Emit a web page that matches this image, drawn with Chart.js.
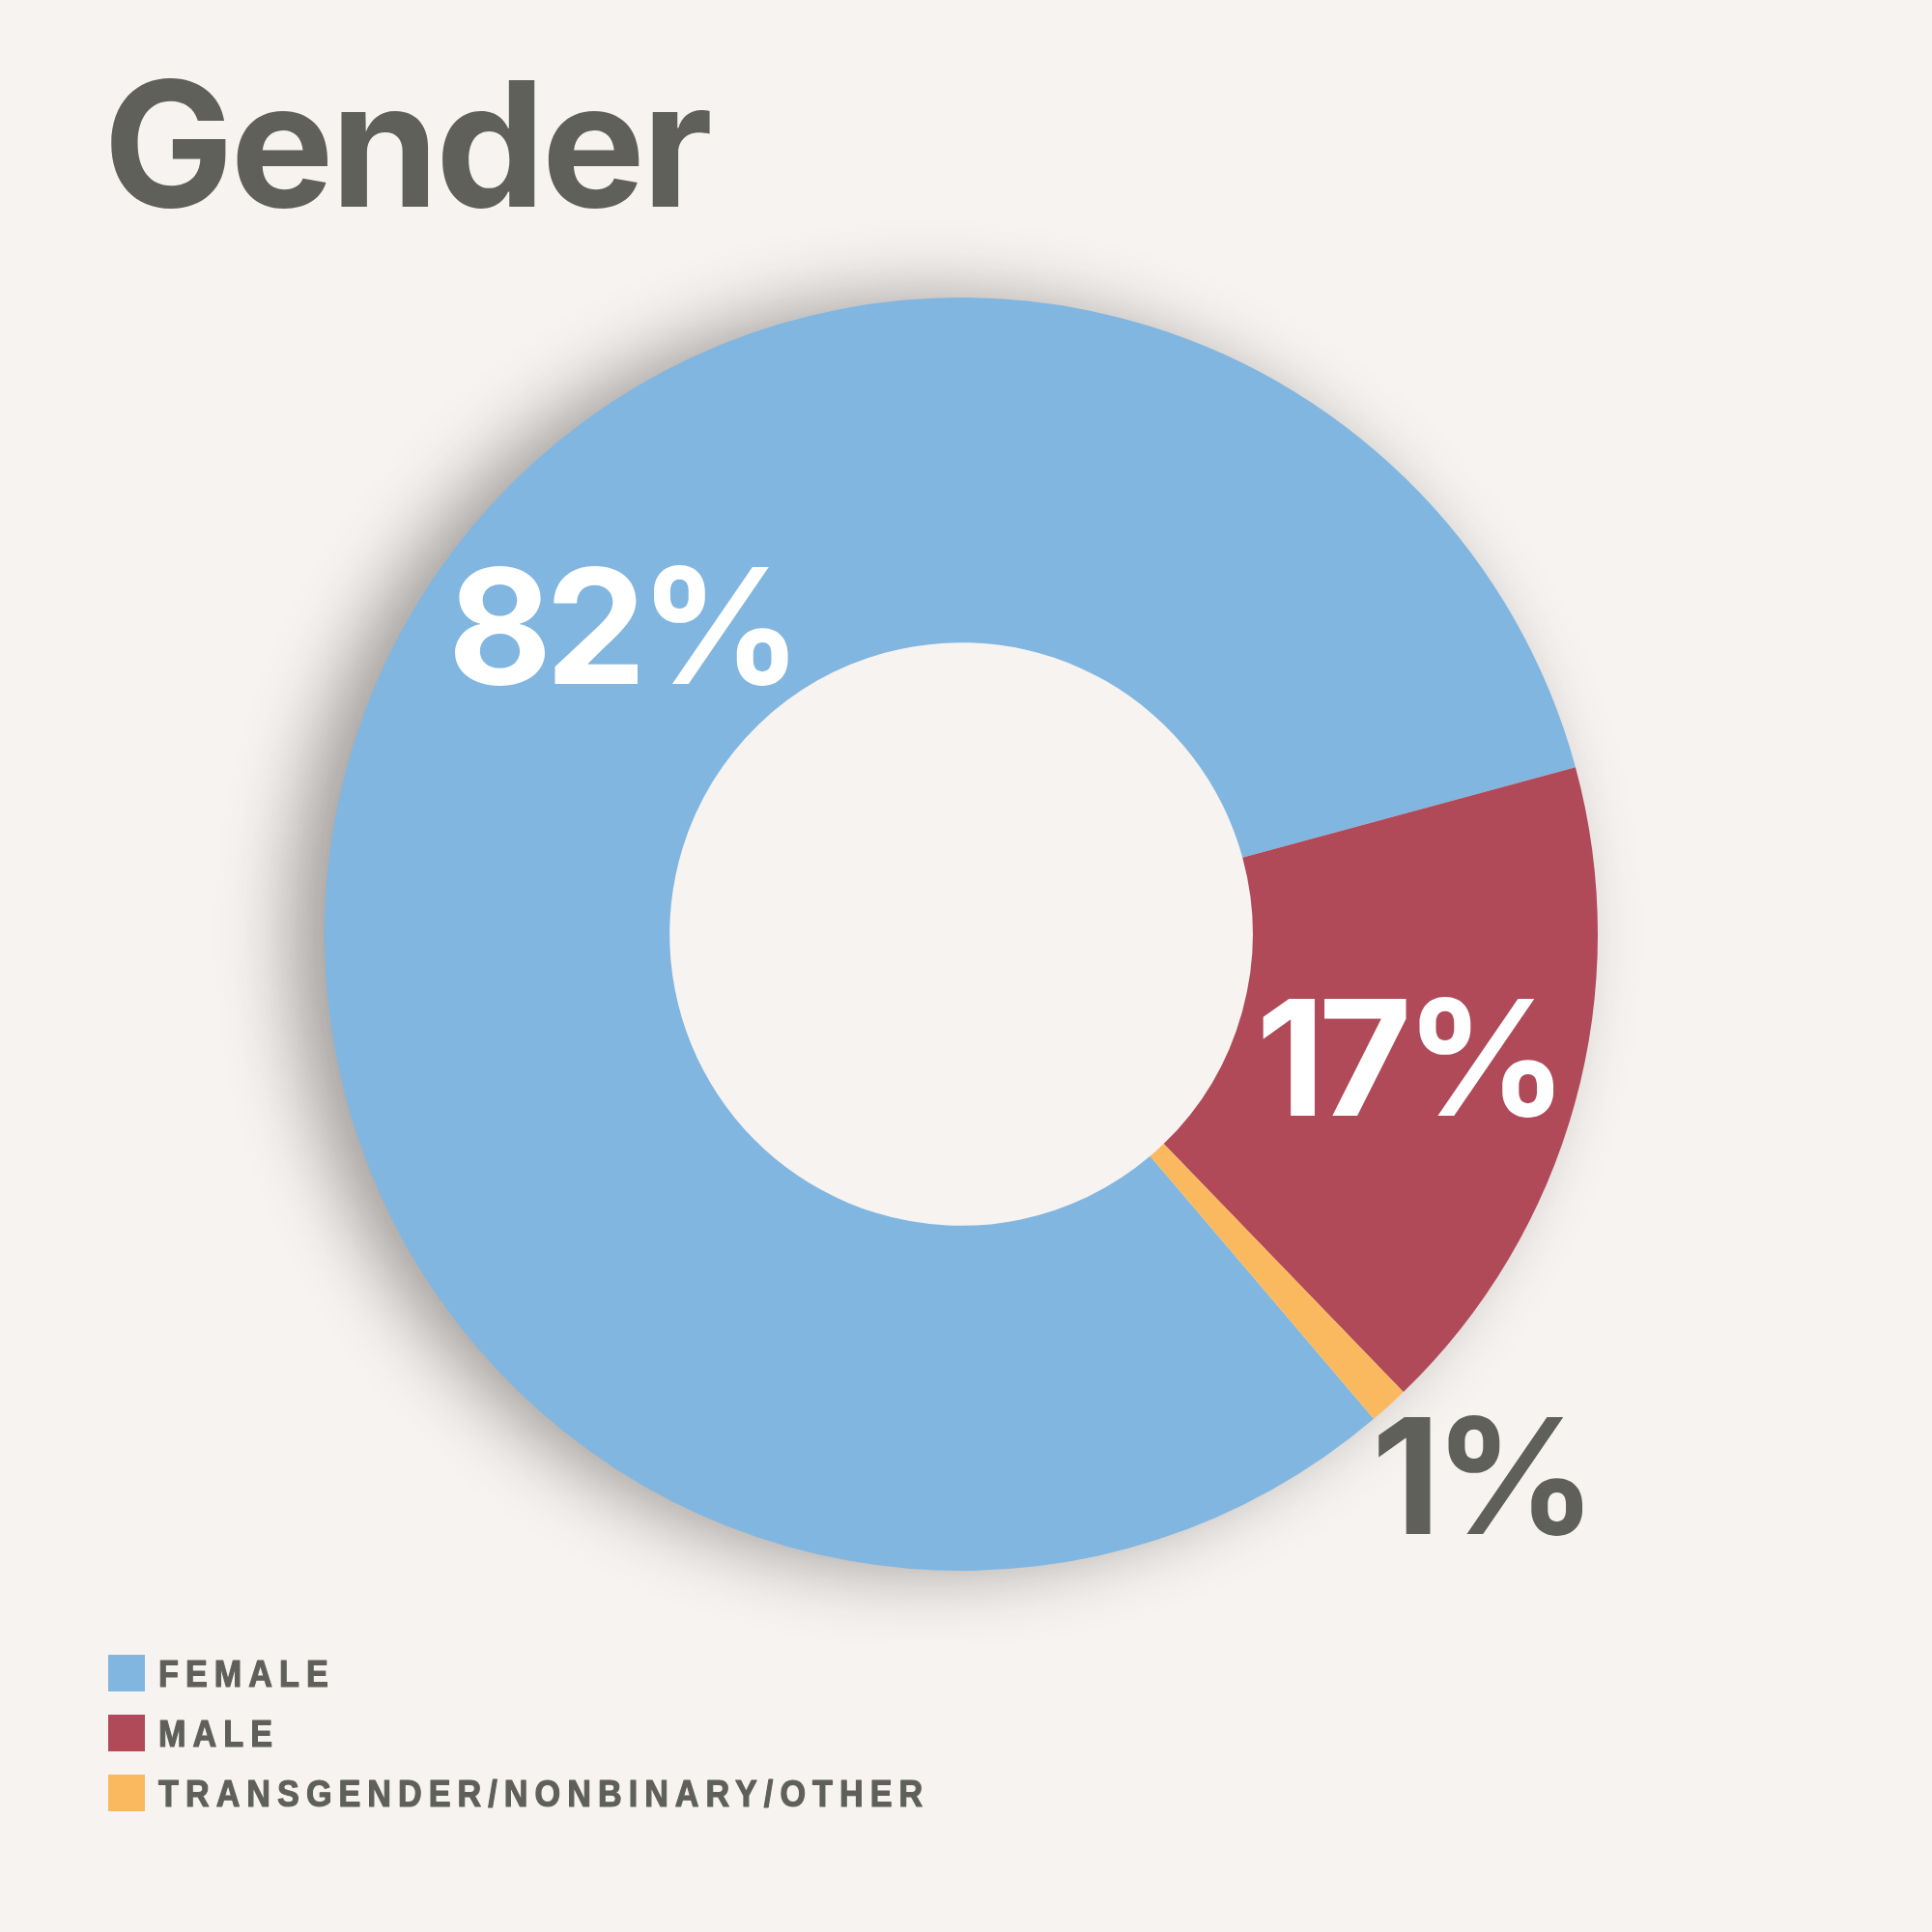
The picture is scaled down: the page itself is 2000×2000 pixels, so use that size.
<!DOCTYPE html>
<html>
<head>
<meta charset="utf-8">
<script src="https://cdn.jsdelivr.net/npm/chart.js@4.4.1/dist/chart.umd.min.js"></script>
<style>
  html, body { margin: 0; padding: 0; background: #f6f3f0; }
  #wrap { position: relative; width: 2000px; height: 2000px; }
</style>
</head>
<body>
<div id="wrap"><canvas id="genderChart" width="2000" height="2000"></canvas></div>
<script>
// ── Data ───────────────────────────────────────────
const categories = ['FEMALE', 'MALE', 'TRANSGENDER/NONBINARY/OTHER'];
const shares = [82, 17, 1];
const colors = ['#81b6e0', '#b04a59', '#fbb95f'];
const labelColors = ['#ffffff', '#ffffff', '#5f605a'];
// where each % label sits: fraction along the arc, and radial position
// (0 = inner edge, 1 = outer edge, >1 outside the ring)
const labelArcFrac = [0.585, 0.5, 0.05];
const labelRadial = [0.485, 0.5, 1.33];

const INK = '#5f605a';
const BG = '#f6f3f0';

// ── Ring shadow (drawn once, under the slices) ─────
const ringShadow = {
    id: 'ringShadow',
    beforeDatasetsDraw(chart) {
        const arc = chart.getDatasetMeta(0).data[0];
        if (!arc) return;
        const ctx = chart.ctx;
        ctx.save();
        ctx.shadowColor = 'rgba(40,35,35,0.42)';
        ctx.shadowBlur = 75;
        ctx.shadowOffsetX = -34;
        ctx.shadowOffsetY = 0;
        ctx.fillStyle = BG;
        ctx.beginPath();
        ctx.arc(arc.x, arc.y, arc.outerRadius - 2, 0, Math.PI * 2);
        ctx.fill();
        ctx.restore();
        ctx.save();
        ctx.fillStyle = BG;
        ctx.beginPath();
        ctx.arc(arc.x, arc.y, arc.innerRadius + 1, 0, Math.PI * 2);
        ctx.fill();
        ctx.restore();
    }
};

// ── Percent labels ─────────────────────────────────
const pctLabels = {
    id: 'pctLabels',
    afterDatasetsDraw(chart) {
        const ctx = chart.ctx;
        const size = 166;
        ctx.save();
        ctx.font = `700 ${size}px Inter, 'Noto Sans', sans-serif`;
        ctx.letterSpacing = '-7px';
        ctx.textAlign = 'center';
        ctx.textBaseline = 'alphabetic';
        chart.getDatasetMeta(0).data.forEach((arc, i) => {
            const a = arc.startAngle + (arc.endAngle - arc.startAngle) * labelArcFrac[i];
            const r = arc.innerRadius + (arc.outerRadius - arc.innerRadius) * labelRadial[i];
            const x = arc.x + Math.cos(a) * r;
            const y = arc.y + Math.sin(a) * r;
            ctx.fillStyle = labelColors[i];
            ctx.fillText(shares[i] + '%', x, y + size * 0.364);
        });
        ctx.restore();
    }
};

// ── Title + legend ─────────────────────────────────
const titleLegend = {
    id: 'titleLegend',
    afterDraw(chart) {
        const ctx = chart.ctx;
        ctx.save();
        ctx.fillStyle = INK;
        ctx.textAlign = 'left';
        ctx.textBaseline = 'alphabetic';
        ctx.font = "700 180px Inter, 'Noto Sans', sans-serif";
        ctx.letterSpacing = '-3.5px';
        ctx.fillText('Gender', 107, 214);
        ctx.restore();

        // legend text is condensed: squeeze the glyphs horizontally
        const squeeze = 0.9;
        ctx.save();
        ctx.font = "700 38px 'Liberation Sans', Arial, sans-serif";
        ctx.letterSpacing = '7.8px';
        ctx.textAlign = 'left';
        ctx.textBaseline = 'alphabetic';
        ctx.lineWidth = 1.2;
        ctx.lineJoin = 'round';
        categories.forEach((name, i) => {
            const top = 1713 + i * 62;
            ctx.fillStyle = colors[i];
            ctx.fillRect(112, top, 38, 38);
            ctx.save();
            ctx.scale(squeeze, 1);
            ctx.fillStyle = INK;
            ctx.strokeStyle = INK;
            ctx.fillText(name, 164 / squeeze, top + 33);
            ctx.strokeText(name, 164 / squeeze, top + 33);
            ctx.restore();
        });
        ctx.restore();
    }
};

new Chart(document.getElementById('genderChart'), {
    type: 'doughnut',
    data: {
        labels: categories,
        datasets: [{
            data: shares,
            backgroundColor: colors,
            borderWidth: 0,
            hoverBorderWidth: 0,
            hoverOffset: 0,
        }]
    },
    options: {
        responsive: false,
        animation: false,
        rotation: 139.6,
        cutout: '45.8%',
        layout: { padding: { left: 336, right: 346, top: 308, bottom: 374 } },
        plugins: {
            legend: { display: false },
            tooltip: { enabled: false },
        }
    },
    plugins: [ringShadow, pctLabels, titleLegend]
});
</script>
</body>
</html>
